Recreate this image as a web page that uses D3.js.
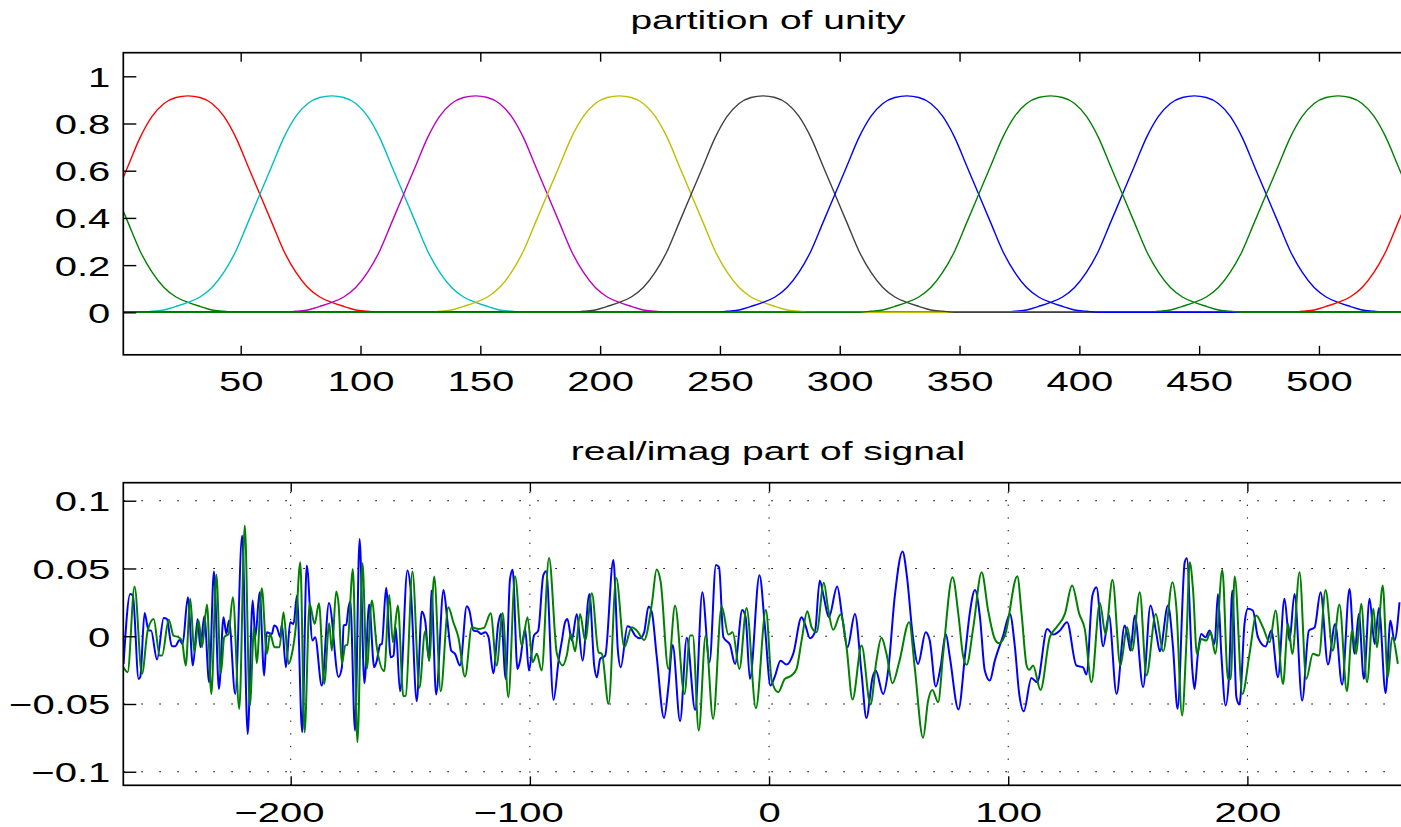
<!DOCTYPE html>
<html lang="en">
<head>
<meta charset="utf-8">
<title>partition of unity</title>
<style>
  body { margin: 0; background: #fff; }
  svg { display: block; }
  text { font-family: "Liberation Sans", Arial, Helvetica, sans-serif; fill: #000; }
</style>
</head>
<body>
<script src="https://cdn.jsdelivr.net/npm/d3@7/dist/d3.min.js"></script>
<script>

// ---- top panel: one window shape (half profile) ----
var profileOffset = [0, 5, 10, 15, 20, 25, 30, 35, 40, 45, 50, 55, 60, 65, 70, 75, 80];
var profileValue  = [0.917, 0.91, 0.885, 0.83, 0.74, 0.62, 0.5, 0.38, 0.26, 0.17, 0.105, 0.065, 0.042, 0.025, 0.01, 0.005, 0];
// window centres, in plotting order (they wrap round a period of 540 samples)
var windowCenter = [448, 508, 28, 88, 148, 208, 268, 328, 388];
var period = 540;

var topXTicks = [50, 100, 150, 200, 250, 300, 350, 400, 450, 500];
var topYTicks = [0, 0.2, 0.4, 0.6, 0.8, 1];
var botXTicks = [-200, -100, 0, 100, 200];
var botYTicks = [-0.1, -0.05, 0, 0.05, 0.1];

// ---- bottom panel: real part (blue) ----
var realX = [-269.9,-267.1,-266.0,-263.6,-262.9,-261.1,-259.4,-258.4,-255.9,-253.1,-251.8,-249.7,-248.3,-246.5,-245.2,-243.0,-240.9,-238.9,-237.8,-236.1,-234.1,-232.1,-230.0,-228.1,-226.9,-225.8,-223.2,-220.3,-218.0,-215.9,-214.8,-213.0,-211.1,-210.0,-207.9,-206.9,-205.8,-204.4,-203.7,-202.0,-200.2,-198.8,-197.4,-195.2,-193.3,-190.9,-189.8,-187.0,-184.0,-180.0,
  -178.6,-177.9,-176.8,-175.8,-175.1,-173.1,-171.2,-169.2,-167.2,-165.1,-164.0,-162.6,-161.9,-160.1,-158.2,-157.0,-156.1,-154.3,-151.2,-149.8,-147.3,-145.2,-143.8,-142.1,-141.2,-139.2,-136.1,-134.5,-132.9,-131.3,-129.2,-126.4,-125.3,-123.6,-121.9,-120.4,-118.7,-117.3,-115.3,-113.2,-112.1,-110.1,-108.3,-107.2,-105.2,-104.1,-102.0,-100.4,-98.3,-96.5,-94.4,-93.2,
  -90.1,-88.0,-86.6,-85.3,-84.3,-82.5,-80.4,-78.0,-75.1,-73.1,-72.0,-70.6,-68.5,-65.1,-63.2,-62.0,-59.2,-58.1,-56.0,-53.9,-52.2,-50.4,-49.0,-47.0,-43.9,-42.1,-40.3,-37.2,-34.4,-30.9,-27.9,-24.9,-22.2,-20.9,-19.1,-16.3,-14.2,-11.2,-9.8,-8.0,-4.0,
  -1.7,0.6,2.4,4.8,7.3,10.1,13.6,15.0,17.1,19.2,21.2,22.9,25.0,28.5,30.7,32.8,35.9,38.7,40.7,43.3,44.6,47.7,49.8,52.6,55.8,57.7,60.0,62.3,65.5,67.2,69.7,71.7,73.9,75.6,79.2,82.0,84.0,86.1,
  88.2,90.2,92.3,94.4,97.9,100.7,102.8,104.6,106.5,109.7,112.1,116.3,118.8,121.6,124.6,128.5,131.3,132.7,135.2,136.9,139.7,142.1,145.3,148.7,150.1,151.1,152.9,156.4,159.5,162.0,163.4,166.8,168.9,
  170.8,173.8,174.7,177.0,177.9,179.3,180.7,182.5,184.2,186.3,187.7,189.1,190.9,192.3,193.7,195.4,196.7,198.8,200.2,202.3,204.4,207.6,210.0,212.8,215.5,217.6,219.7,222.9,225.7,228.1,230.6,233.7,236.7,239.6,242.7,244.8,246.6,248.7,251.1,253.2,255.0,257.8,259.8,261.5,263.6];
var realY = [-0.0204,0.0312,0.0300,-0.0315,-0.0300,0.0172,0.0042,0.0042,-0.0172,0.0135,0.0128,-0.0074,-0.0074,-0.0027,-0.0057,0.0288,-0.0216,0.0128,-0.0081,0.0148,-0.0340,0.0477,-0.0389,0.0140,0.0017,0.0116,-0.0426,0.0743,-0.0721,0.0263,-0.0007,0.0325,-0.0290,0.0030,0.0017,0.0079,0.0066,-0.0007,0.0086,-0.0229,0.0103,0.0091,0.0300,-0.0708,0.0522,-0.0032,-0.0007,-0.0364,0.0245,-0.0300,
  -0.0229,0.0079,0.0086,0.0214,0.0258,-0.0696,0.0718,-0.0347,0.0234,-0.0229,-0.0180,-0.0062,-0.0057,0.0357,-0.0155,-0.0143,0.0066,-0.0406,0.0485,0.0337,-0.0480,0.0182,0.0116,-0.0180,0.0337,-0.0430,0.0342,0.0116,-0.0106,-0.0130,-0.0216,0.0221,0.0190,0.0042,0.0037,0.0017,0.0030,-0.0007,-0.0273,0.0096,0.0165,-0.0315,0.0423,0.0490,-0.0241,-0.0180,0.0054,-0.0253,0.0005,0.0042,0.0448,0.0480,
  -0.0470,-0.0180,-0.0032,0.0103,0.0128,-0.0032,0.0165,-0.0180,0.0312,-0.0216,-0.0303,-0.0167,-0.0143,0.0563,-0.0106,-0.0229,0.0074,0.0066,0.0005,-0.0015,0.0030,0.0219,0.0177,-0.0143,-0.0603,-0.0376,-0.0064,-0.0627,-0.0012,-0.0544,0.0325,-0.0192,0.0526,0.0509,-0.0007,-0.0064,-0.0204,0.0194,0.0140,-0.0315,0.0450,
  0.0066,-0.0364,-0.0298,-0.0180,-0.0209,-0.0130,0.0140,0.0091,-0.0015,0.0030,0.0411,0.0288,0.0140,0.0367,0.0128,-0.0081,0.0165,-0.0278,-0.0603,-0.0303,-0.0253,-0.0426,-0.0253,0.0300,0.0625,0.0435,0.0017,-0.0204,0.0030,-0.0032,-0.0371,-0.0229,0.0017,-0.0155,-0.0540,-0.0130,0.0180,0.0342,
  0.0140,-0.0253,-0.0327,-0.0180,0.0005,0.0165,-0.0081,-0.0426,-0.0554,-0.0308,-0.0340,0.0054,0.0012,0.0042,0.0103,-0.0216,-0.0229,-0.0283,0.0300,0.0362,-0.0074,0.0153,-0.0426,0.0079,-0.0020,-0.0106,0.0153,-0.0376,0.0226,0.0012,-0.0111,0.0226,-0.0081,
  -0.0536,0.0546,0.0576,-0.0253,-0.0389,-0.0130,0.0017,-0.0007,0.0042,-0.0057,0.0312,-0.0130,-0.0512,-0.0303,0.0337,-0.0450,-0.0504,0.0091,0.0202,0.0190,-0.0007,-0.0076,0.0042,-0.0303,0.0276,-0.0032,0.0312,-0.0475,0.0042,0.0066,0.0325,-0.0209,0.0091,-0.0357,0.0349,-0.0130,0.0165,-0.0315,0.0276,-0.0057,0.0209,-0.0420,0.0116,-0.0032,0.0251];

// ---- bottom panel: imaginary part (green) ----
var imagX = [-269.9,-268.2,-265.3,-262.2,-259.8,-257.3,-254.8,-253.8,-251.0,-249.0,-246.9,-245.5,-243.9,-242.0,-240.3,-238.5,-237.1,-235.0,-233.2,-231.1,-229.2,-227.8,-226.0,-224.2,-221.5,-219.2,-217.1,-215.3,-214.2,-212.1,-210.0,-208.6,-206.8,-204.7,-203.0,-200.9,-199.5,-197.9,-196.0,-194.2,-192.1,-190.0,-188.2,-186.0,-183.9,-182.8,-181.0,
  -180.0,-178.6,-177.2,-176.3,-174.0,-172.1,-170.0,-168.2,-166.1,-164.0,-160.9,-158.8,-157.3,-155.2,-152.9,-151.9,-149.1,-146.2,-143.8,-142.1,-140.0,-137.3,-134.1,-132.0,-129.9,-127.1,-124.3,-121.5,-119.2,-116.4,-113.9,-111.4,-109.0,-106.2,-103.4,-101.0,-98.8,-97.1,-95.1,-92.0,
  -88.7,-86.2,-84.6,-82.9,-81.1,-79.0,-76.9,-74.1,-71.3,-69.9,-67.1,-63.9,-60.5,-57.4,-55.3,-52.2,-49.0,-47.0,-45.3,-42.1,-39.3,-35.4,-33.0,-31.9,-29.4,-26.5,-23.4,-19.8,-17.0,-15.2,-12.4,-9.4,-5.5,
  -1.3,1.1,3.8,6.6,9.4,11.5,13.6,16.0,17.8,19.9,22.9,24.7,26.8,29.9,32.4,34.9,38.7,42.4,44.9,47.0,49.1,51.6,54.4,58.6,60.9,64.4,66.5,68.3,70.7,72.8,76.7,79.3,81.1,82.6,
  85.4,88.9,91.6,94.4,96.2,98.6,103.8,105.6,107.7,108.8,110.4,113.5,117.4,120.2,123.7,126.7,129.7,132.0,134.8,138.3,140.7,143.6,146.9,149.7,151.8,155.0,157.8,161.7,164.8,168.7,
  170.3,172.7,174.5,175.9,177.3,178.9,180.7,182.8,184.6,186.6,189.5,191.9,193.0,194.7,197.9,200.9,203.7,206.5,209.3,211.8,214.9,217.0,218.8,221.8,224.6,227.4,229.9,232.7,235.7,238.5,241.6,243.8,245.5,247.6,250.0,252.7,254.1,256.6,258.7,260.5,262.9];
var imagY = [-0.0229,-0.0266,0.0367,-0.0278,0.0042,0.0128,-0.0143,-0.0143,0.0121,0.0005,-0.0007,-0.0032,-0.0216,0.0276,-0.0118,0.0116,-0.0081,0.0234,-0.0426,0.0453,-0.0273,-0.0007,0.0017,0.0288,-0.0536,0.0817,-0.0512,0.0066,-0.0199,0.0354,-0.0130,0.0017,-0.0081,-0.0081,0.0177,-0.0204,-0.0130,0.0066,0.0546,-0.0708,0.0239,0.0091,0.0244,-0.0352,0.0096,-0.0106,0.0330,
  0.0239,-0.0204,-0.0069,-0.0062,0.0497,-0.0782,0.0539,-0.0241,0.0263,-0.0081,-0.0258,0.0305,-0.0044,0.0226,-0.0443,-0.0438,0.0477,-0.0381,0.0037,-0.0180,0.0440,-0.0406,0.0214,0.0103,-0.0007,-0.0298,0.0066,0.0054,0.0062,0.0170,-0.0216,0.0172,-0.0450,0.0443,-0.0069,0.0140,-0.0192,-0.0130,-0.0253,0.0578,
  -0.0130,-0.0216,-0.0143,0.0017,-0.0111,0.0165,-0.0032,0.0317,-0.0118,-0.0130,-0.0499,0.0430,-0.0081,0.0066,0.0042,-0.0027,0.0239,0.0492,0.0399,-0.0241,0.0226,-0.0426,0.0005,0.0005,-0.0696,0.0005,-0.0610,0.0221,0.0012,0.0030,-0.0241,0.0209,-0.0531,
  0.0194,-0.0327,-0.0413,-0.0315,-0.0290,-0.0241,-0.0032,0.0185,0.0066,0.0030,0.0394,0.0202,0.0047,0.0160,-0.0081,-0.0467,-0.0069,-0.0504,-0.0180,-0.0012,-0.0130,-0.0347,-0.0192,0.0103,-0.0229,-0.0750,-0.0475,-0.0396,-0.0487,-0.0130,0.0435,0.0140,-0.0143,-0.0210,
  0.0066,0.0472,0.0190,-0.0020,-0.0052,0.0005,0.0443,0.0165,-0.0216,-0.0248,-0.0216,-0.0396,-0.0007,0.0066,0.0165,0.0374,0.0165,0.0054,-0.0340,0.0246,0.0017,0.0416,-0.0216,0.0066,-0.0106,0.0325,-0.0290,0.0165,-0.0111,0.0399,
  0.0214,-0.0585,-0.0044,0.0546,0.0337,-0.0130,-0.0020,-0.0032,0.0030,-0.0130,0.0490,-0.0315,-0.0315,0.0440,-0.0426,-0.0130,0.0153,0.0066,-0.0044,0.0190,-0.0352,0.0091,-0.0130,0.0472,-0.0315,-0.0130,-0.0143,0.0342,-0.0106,0.0234,-0.0406,0.0042,-0.0130,0.0239,-0.0340,0.0202,-0.0081,0.0374,-0.0303,-0.0007,-0.0204];

// ---- styles / layout ----
var windowColor = ["#0000ff", "#008000", "#ff0000", "#00bfbf", "#bf00bf", "#bfbf00", "#404040", "#0000ff", "#008000"];
var w = 1401, h = 827;
var left = 123.3, right = 1414.8;
var top1 = 52.7, bottom1 = 354.8;
var top2 = 482.7, bottom2 = 785.3;
var stretch = 1.43;   // glyphs in the picture are wider than they are tall

var svg = d3.select("body").append("svg")
  .attr("width", w)
  .attr("height", h);

var defs = svg.append("defs");
defs.append("clipPath").attr("id", "clip1").append("rect")
  .attr("x", left).attr("y", top1).attr("width", right - left).attr("height", bottom1 - top1);
defs.append("clipPath").attr("id", "clip2").append("rect")
  .attr("x", left).attr("y", top2).attr("width", right - left).attr("height", bottom2 - top2);

var x1 = d3.scaleLinear().domain([1, 540]).range([left, right]);
var y1 = d3.scaleLinear().domain([-0.18, 1.1]).range([bottom1, top1]);
var x2 = d3.scaleLinear().domain([-270, 270]).range([left, right]);
var y2 = d3.scaleLinear().domain([-0.11, 0.1133]).range([bottom2, top2]);

function numLabel(d) {
  if (d === 0) return "0";
  return (d < 0 ? "\u2212" : "") + Math.abs(d);
}

function drawAxes(x, y, top, bottom, xt, yt) {
  var g = svg.append("g");

  var xb = g.append("g").attr("transform", "translate(0," + bottom + ")")
    .call(d3.axisBottom(x).tickValues(xt).tickSizeInner(-9).tickSizeOuter(0).tickFormat(numLabel));
  var xtop = g.append("g").attr("transform", "translate(0," + top + ")")
    .call(d3.axisTop(x).tickValues(xt).tickSizeInner(-9).tickSizeOuter(0).tickFormat(""));
  var yl = g.append("g").attr("transform", "translate(" + left + ",0)")
    .call(d3.axisLeft(y).tickValues(yt).tickSizeInner(-13).tickSizeOuter(0).tickFormat(numLabel));
  var yr = g.append("g").attr("transform", "translate(" + right + ",0)")
    .call(d3.axisRight(y).tickValues(yt).tickSizeInner(-13).tickSizeOuter(0).tickFormat(""));

  g.selectAll(".domain").remove();
  g.selectAll(".tick line").attr("stroke", "#000").attr("stroke-width", 1.4);
  g.selectAll("g").attr("font-size", null).attr("font-family", null);

  xb.selectAll(".tick text")
    .attr("y", null).attr("dy", null)
    .attr("font-size", 28)
    .attr("dx", function(d) { return d < 0 ? "-0.292em" : null; })
    .attr("transform", "translate(0,36.5) scale(" + stretch + ",1)");
  yl.selectAll(".tick text")
    .attr("x", null).attr("dy", null)
    .attr("font-size", 28)
    .attr("transform", "translate(-13,10) scale(" + stretch + ",1)");

  g.append("rect")
    .attr("x", left).attr("y", top)
    .attr("width", right - left).attr("height", bottom - top)
    .attr("fill", "none").attr("stroke", "#000").attr("stroke-width", 1.7);
}

function title(txt, y) {
  svg.append("text")
    .attr("text-anchor", "middle")
    .attr("font-size", 26)
    .attr("transform", "translate(768," + y + ") scale(1.5,1)")
    .text(txt);
}

// ---- top panel ----
var halfProfile = profileOffset.map(function(o, i) { return [o, profileValue[i]]; });
var fullProfile = halfProfile.slice(1).reverse().map(function(p) { return [-p[0], p[1]]; }).concat(halfProfile);

var line1 = d3.line()
  .x(function(d) { return x1(d[0]); })
  .y(function(d) { return y1(d[1]); })
  .curve(d3.curveMonotoneX);

var plot1 = svg.append("g").attr("clip-path", "url(#clip1)");
windowCenter.forEach(function(c, i) {
  var pts = [];
  [-1, 0, 1].forEach(function(k) {
    fullProfile.forEach(function(p) { pts.push([c + k * period + p[0], p[1]]); });
  });
  plot1.append("path")
    .attr("d", line1(pts))
    .attr("fill", "none")
    .attr("stroke", windowColor[i])
    .attr("stroke-width", 1.4);
});

drawAxes(x1, y1, top1, bottom1, topXTicks, topYTicks);
title("partition of unity", 29.3);

// ---- bottom panel ----
var grid = svg.append("g");
botYTicks.forEach(function(t) {
  grid.append("line")
    .attr("x1", left).attr("x2", right).attr("y1", y2(t)).attr("y2", y2(t))
    .attr("stroke", "#000").attr("stroke-width", 1).attr("stroke-dasharray", "1.6,16.4");
});
botXTicks.forEach(function(t) {
  grid.append("line")
    .attr("x1", x2(t)).attr("x2", x2(t)).attr("y1", bottom2).attr("y2", top2)
    .attr("stroke", "#000").attr("stroke-width", 1).attr("stroke-dasharray", "1.3,11.4");
});

var line2 = d3.line()
  .x(function(d) { return x2(d[0]); })
  .y(function(d) { return y2(d[1]); })
  .curve(d3.curveMonotoneX);

var plot2 = svg.append("g").attr("clip-path", "url(#clip2)");
plot2.append("path")
  .attr("d", line2(realX.map(function(v, i) { return [v, realY[i]]; })))
  .attr("fill", "none").attr("stroke", "#0000ff").attr("stroke-width", 2);
plot2.append("path")
  .attr("d", line2(imagX.map(function(v, i) { return [v, imagY[i]]; })))
  .attr("fill", "none").attr("stroke", "#008000").attr("stroke-width", 2);

drawAxes(x2, y2, top2, bottom2, botXTicks, botYTicks);
title("real/imag part of signal", 459.5);

</script>
</body>
</html>
